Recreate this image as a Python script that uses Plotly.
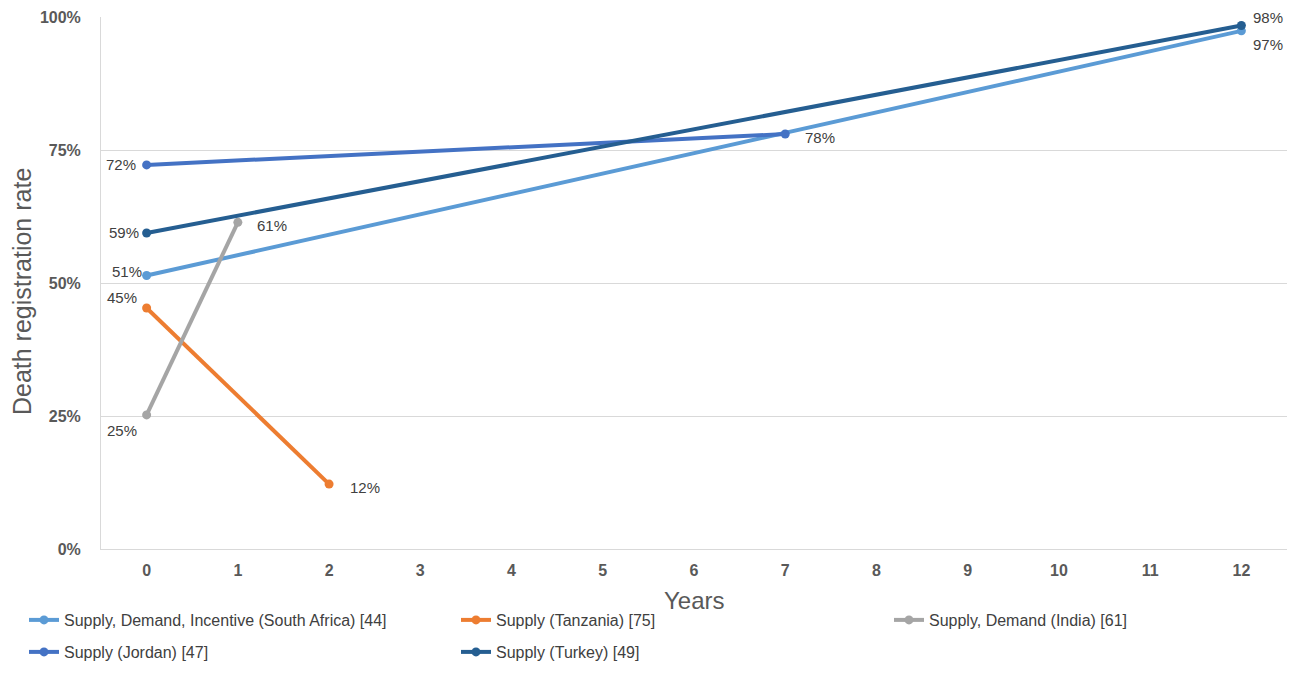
import plotly.graph_objects as go

# ---- data ----
series_names = [
    "Supply, Demand, Incentive (South Africa) [44]",
    "Supply (Tanzania) [75]",
    "Supply, Demand (India) [61]",
    "Supply (Jordan) [47]",
    "Supply (Turkey) [49]",
]
series_years = [
    [0, 12],
    [0, 2],
    [0, 1],
    [0, 7],
    [0, 12],
]
series_rates = [
    [0.514, 0.974],
    [0.453, 0.122],
    [0.252, 0.614],
    [0.722, 0.780],
    [0.594, 0.984],
]
x_ticks = list(range(0, 13))
y_ticks = [0, 0.25, 0.5, 0.75, 1.0]
y_tick_labels = ["0%", "25%", "50%", "75%", "100%"]
x_title = "Years"
y_title = "Death registration rate"

# ---- styles ----
colors = ["#5B9BD5", "#ED7D31", "#A5A5A5", "#4472C4", "#255E91"]
# label placement per point: (xanchor, xshift, yshift)
label_style = [
    [("right", -3, 4), ("left", 10, -14)],
    [("right", -8, 11), ("left", 19, -3)],
    [("right", -8, -16), ("left", 17, -3)],
    [("right", -9, 0), ("left", 18, -3)],
    [("right", -6, 0), ("left", 10, 8)],
]
# page body adds an 8px offset; figure drawn at 1290x684
W, H = 1290, 684
# legend slot per series in figure px: (left, centre y)
legend_pos = [(16, 612), (448, 612), (881, 612), (16, 644), (448, 644)]

font_family = "Liberation Sans, Arial, sans-serif"
text_col = "#404040"
axis_col = "#595959"

fig = go.Figure()
annotations = []
legends = {}
for i, name in enumerate(series_names):
    lname = "legend" if i == 0 else f"legend{i + 1}"
    lx, ly = legend_pos[i]
    legends[lname] = dict(
        x=lx / W, y=(H - ly) / H, xref="container", yref="container",
        xanchor="left", yanchor="middle", orientation="h",
        font=dict(family=font_family, size=16, color=text_col),
        bgcolor="rgba(0,0,0,0)",
    )
    fig.add_trace(go.Scatter(
        x=series_years[i], y=series_rates[i], name=name,
        mode="lines+markers",
        line=dict(color=colors[i], width=4),
        marker=dict(color=colors[i], size=9),
        legend=lname,
        hoverinfo="skip",
    ))
    for j, (xv, yv) in enumerate(zip(series_years[i], series_rates[i])):
        xa, xs, ys = label_style[i][j]
        annotations.append(dict(
            x=xv, y=yv, xref="x", yref="y", text=f"{round(yv*100)}%",
            showarrow=False, xanchor=xa, yanchor="middle",
            xshift=xs, yshift=ys,
            font=dict(family=font_family, size=15, color=text_col),
        ))

# axis titles
annotations.append(dict(
    x=0.5, y=-0.0977, xref="paper", yref="paper", text=x_title, showarrow=False,
    xanchor="center", yanchor="middle",
    font=dict(family=font_family, size=24, color=axis_col),
))
annotations.append(dict(
    x=-0.0666, y=0.483, xref="paper", yref="paper", text=y_title, showarrow=False,
    xanchor="center", yanchor="middle", textangle=-90,
    font=dict(family=font_family, size=25, color=axis_col),
))

fig.update_layout(
    width=W, height=H,
    margin=dict(l=93, r=11, t=9, b=143),
    paper_bgcolor="white", plot_bgcolor="white",
    font=dict(family=font_family, color=axis_col),
    showlegend=True,
    annotations=annotations,
    xaxis=dict(
        range=[-0.5, 12.5], tickmode="array", tickvals=x_ticks,
        ticktext=[str(t) for t in x_ticks],
        showgrid=False, zeroline=False, automargin=False,
        showline=True, linecolor="#D9D9D9", linewidth=1,
        tickfont=dict(family=font_family, size=16, color=axis_col, weight="bold"),
        ticks="", ticklabelstandoff=7,
    ),
    yaxis=dict(
        range=[0, 1.0], tickmode="array", tickvals=y_ticks, ticktext=y_tick_labels,
        showgrid=True, gridcolor="#D9D9D9", gridwidth=1, zeroline=False, automargin=False,
        showline=True, linecolor="#D9D9D9", linewidth=1,
        tickfont=dict(family=font_family, size=16, color=axis_col, weight="bold"),
        ticks="", ticklabelstandoff=16,
    ),
)
fig.update_layout(**legends)

fig.write_html("out.html")
